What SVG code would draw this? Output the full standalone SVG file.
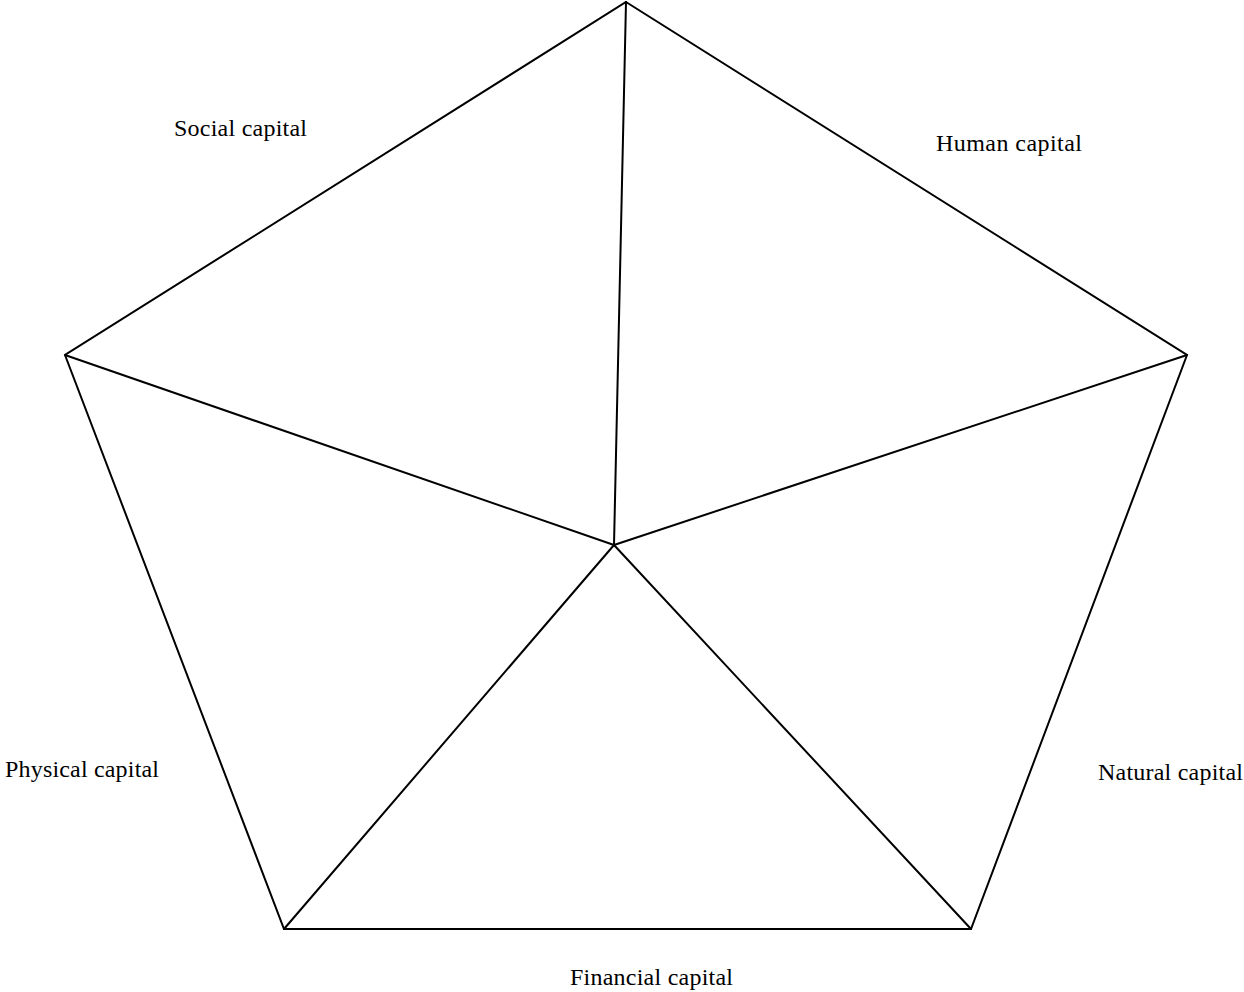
<svg xmlns="http://www.w3.org/2000/svg" width="1244" height="992" viewBox="0 0 1244 992">
<style>
.e{stroke:#000;stroke-width:2;fill:none;stroke-linecap:round;stroke-linejoin:miter}
.t{font-family:"Liberation Serif","Times New Roman",serif;font-size:24px;fill:#000}
</style>
<rect width="1244" height="992" fill="#fff"/>
<g id="connectors">
<polygon class="e" points="626,2 1187,355 971,929 284,929 65,355"/>
<line class="e" x1="626" y1="2" x2="614" y2="545"/>
<line class="e" x1="65" y1="355" x2="614" y2="545"/>
<line class="e" x1="1187" y1="355" x2="614" y2="545"/>
<line class="e" x1="284" y1="929" x2="614" y2="545"/>
<line class="e" x1="971" y1="929" x2="614" y2="545"/>
</g>
<g id="social"><text class="t" x="174" y="136" textLength="133" lengthAdjust="spacing">Social capital</text></g>
<g id="human"><text class="t" x="936" y="151" textLength="146" lengthAdjust="spacing">Human capital</text></g>
<g id="physical"><text class="t" x="5" y="777" textLength="154" lengthAdjust="spacing">Physical capital</text></g>
<g id="natural"><text class="t" x="1098" y="780" textLength="145" lengthAdjust="spacing">Natural capital</text></g>
<g id="financial"><text class="t" x="570" y="985" textLength="163" lengthAdjust="spacing">Financial capital</text></g>
</svg>
